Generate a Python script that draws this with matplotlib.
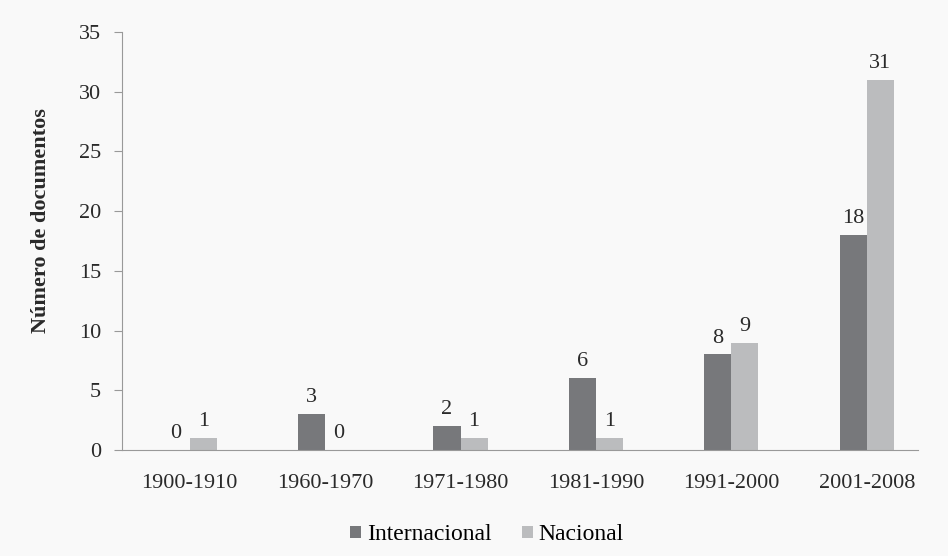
import matplotlib
matplotlib.use("Agg")
import matplotlib.pyplot as plt
import numpy as np

categories = ["1900-1910", "1960-1970", "1971-1980", "1981-1990", "1991-2000", "2001-2008"]
internacional = [0, 3, 2, 6, 8, 18]
nacional = [1, 0, 1, 1, 9, 31]
yticks = [0, 5, 10, 15, 20, 25, 30, 35]

plt.rcParams['font.family'] = ['Liberation Serif', 'DejaVu Serif']

fig = plt.figure(figsize=(9.48, 5.56), dpi=100, facecolor='#f9f9f9')
ax = fig.add_axes([0.1287, 0.1906, 0.857, 0.7518])
ax.set_facecolor('#f9f9f9')

x = np.arange(len(categories))
w = 0.2
c_int = '#77787b'
c_nac = '#bbbcbe'
txt = '#2a2a2a'
b1 = ax.bar(x - w/2, internacional, w, color=c_int, label='Internacional')
b2 = ax.bar(x + w/2, nacional, w, color=c_nac, label='Nacional')

for bars, vals in ((b1, internacional), (b2, nacional)):
    for rect, v in zip(bars, vals):
        ax.annotate(str(v), (rect.get_x() + rect.get_width()/2, v), xytext=(0, 5),
                    textcoords='offset points', ha='center', va='bottom', fontsize=16, color=txt)

ax.set_xlim(-0.5, len(categories) - 0.5)
ax.set_ylim(0, 35)
ax.set_yticks(yticks)
ax.set_xticks(x)
ax.set_xticklabels(categories)
ax.tick_params(axis='x', length=0, pad=17, labelsize=16, colors=txt)
ax.tick_params(axis='y', length=6, width=0.8, color='#999999', pad=9, labelsize=16, labelcolor=txt)
for s in ['top', 'right']:
    ax.spines[s].set_visible(False)
ax.spines['left'].set_color('#999999')
ax.spines['bottom'].set_color('#999999')
ax.spines['bottom'].set_bounds(-0.5, len(categories) - 0.5 - 0.125)

ax.set_ylabel('Número de documentos', fontsize=16, fontweight='bold', color=txt)
ax.yaxis.set_label_coords(-0.088, 0.55)

fig.legend(handles=[b1, b2], labels=['Internacional', 'Nacional'], loc='center',
           bbox_to_anchor=(487/948, 1 - 535/556), ncol=2, frameon=False, fontsize=17,
           handlelength=0.45, handleheight=0.45, handletextpad=0.25, columnspacing=1.3)

fig.savefig('out.png', dpi=100, facecolor=fig.get_facecolor())
